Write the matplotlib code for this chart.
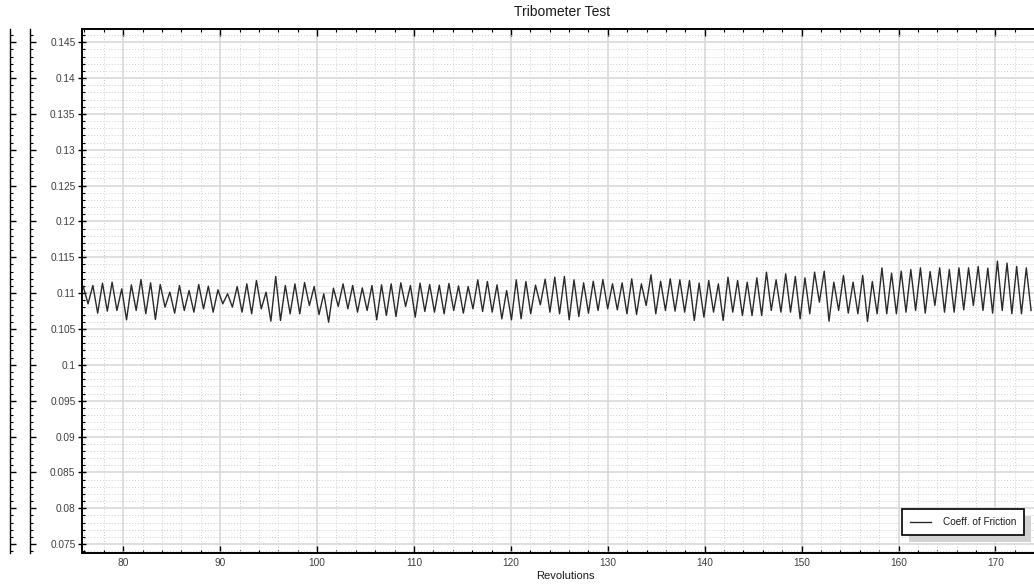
import numpy as np
import matplotlib.pyplot as plt
from matplotlib.ticker import MultipleLocator, FormatStrFormatter
from matplotlib.patches import Rectangle

plt.rcParams['font.family'] = ['Liberation Sans', 'DejaVu Sans']

# Coefficient of friction: one peak and one trough per revolution
peaks = [0.11093, 0.11107, 0.11140, 0.11153, 0.11060, 0.11116, 0.11191, 0.11144, 0.11121, 0.11014,
         0.11107, 0.11037, 0.11121, 0.11098, 0.11047, 0.10991, 0.11093, 0.11130, 0.11177, 0.11014,
         0.11233, 0.11107, 0.11130, 0.11149, 0.11093,
         0.10991, 0.11070, 0.11130, 0.11107, 0.11074, 0.11107, 0.11116, 0.11130, 0.11144, 0.11107,
         0.11140, 0.11121, 0.11112, 0.11135, 0.11102, 0.11093, 0.11186, 0.11163, 0.11116, 0.11037,
         0.11186, 0.11163, 0.11112, 0.11195, 0.11223,
         0.11233, 0.11186, 0.11144, 0.11167, 0.11191, 0.11130, 0.11144, 0.11200, 0.11130, 0.11256,
         0.11167, 0.11200, 0.11186, 0.11177, 0.11140, 0.11177, 0.11130, 0.11223, 0.11177, 0.11153,
         0.11214, 0.11293, 0.11186, 0.11270, 0.11233, 0.11214,
         0.11293, 0.11307, 0.11153, 0.11247, 0.11153, 0.11247, 0.11163, 0.11353, 0.11279, 0.11307,
         0.11330, 0.11353, 0.11302, 0.11353, 0.11330, 0.11353, 0.11353, 0.11372, 0.11349, 0.11447,
         0.11419, 0.11372, 0.11353]
troughs = [0.10851, 0.10721, 0.10749, 0.10758, 0.10628, 0.10758, 0.10712, 0.10633, 0.10805, 0.10721,
           0.10758, 0.10735, 0.10781, 0.10735, 0.10851, 0.10805, 0.10735, 0.10712, 0.10781, 0.10609,
           0.10619, 0.10712, 0.10712, 0.10828, 0.10702,
           0.10595, 0.10814, 0.10781, 0.10735, 0.10758, 0.10628, 0.10688, 0.10674, 0.10814, 0.10665,
           0.10744, 0.10735, 0.10712, 0.10758, 0.10721, 0.10781, 0.10744, 0.10735, 0.10642, 0.10628,
           0.10642, 0.10712, 0.10837, 0.10735, 0.10712,
           0.10628, 0.10674, 0.10721, 0.10758, 0.10781, 0.10767, 0.10712, 0.10702, 0.10828, 0.10712,
           0.10758, 0.10749, 0.10735, 0.10619, 0.10665, 0.10735, 0.10619, 0.10735, 0.10688, 0.10688,
           0.10688, 0.10758, 0.10735, 0.10735, 0.10642, 0.10712,
           0.10874, 0.10609, 0.10758, 0.10721, 0.10712, 0.10605, 0.10712, 0.10712, 0.10712, 0.10735,
           0.10758, 0.10721, 0.10828, 0.10735, 0.10735, 0.10767, 0.10828, 0.10758, 0.10721, 0.10758,
           0.10712, 0.10712, 0.10758]
first_peak = 75.87   # revolution of the first peak
period = 0.993       # revolutions per oscillation

x_peaks = first_peak + period * np.arange(len(peaks))
revs = np.column_stack([x_peaks, x_peaks + period / 2]).ravel()
cof = np.column_stack([peaks, troughs]).ravel()

xlim = (75.71, 173.98)
ylim = (0.07379, 0.14681)
label_color = '#404040'

fig = plt.figure(figsize=(10.34, 5.84), dpi=100)
ax = fig.add_axes([0.0790, 0.0536, 0.921, 0.8962])

ax.plot(revs, cof, color='#2a2a2a', lw=1.0, solid_joinstyle='round',
        label='Coeff. of Friction')
ax.set_xlim(xlim)
ax.set_ylim(ylim)

ax.xaxis.set_major_locator(MultipleLocator(10))
ax.xaxis.set_minor_locator(MultipleLocator(2))
ax.yaxis.set_major_locator(MultipleLocator(0.005))
ax.yaxis.set_minor_locator(MultipleLocator(0.001))
ax.yaxis.set_major_formatter(FormatStrFormatter('%g'))

ax.spines['right'].set_visible(False)
for s in ('top', 'left', 'bottom'):
    ax.spines[s].set_linewidth(1.4)
    ax.spines[s].set_color('black')

ax.tick_params(axis='x', which='both', top=True, bottom=True, direction='in', pad=4)
ax.tick_params(axis='x', which='major', length=4.8, width=1)
ax.tick_params(axis='x', which='minor', length=2.5, width=0.8)
ax.tick_params(axis='y', which='major', direction='inout', length=6, width=1, pad=1.5)
ax.tick_params(axis='y', which='minor', direction='in', length=2.5, width=0.8)
ax.tick_params(axis='y', which='both', right=False)
ax.tick_params(labelsize=7.3, labelcolor=label_color)

ax.grid(which='major', color='#d9d9d9', lw=1.2, ls='-')
ax.grid(which='minor', color='#cfcfcf', lw=0.7, ls=(0, (1, 2)))
ax.set_axisbelow(True)

# two empty extra y axes on the far left
for off in (37.2, 51.6):
    extra = ax.twinx()
    extra.set_ylim(ylim)
    for s in ('top', 'right', 'bottom'):
        extra.spines[s].set_visible(False)
    extra.spines['left'].set_visible(True)
    extra.spines['left'].set_position(('outward', off))
    extra.spines['left'].set_linewidth(1.0)
    extra.yaxis.set_ticks_position('left')
    extra.yaxis.set_major_locator(MultipleLocator(0.005))
    extra.yaxis.set_minor_locator(MultipleLocator(0.001))
    extra.tick_params(axis='y', which='both', direction='in', labelleft=False, labelright=False)
    extra.tick_params(axis='y', which='major', length=4.3, width=1)
    extra.tick_params(axis='y', which='minor', length=2.2, width=0.8)

fig.text(562 / 1034, 1 - 12 / 584, 'Tribometer Test', ha='center', va='center',
         fontsize=10, color='#1a1a1a')
fig.text(565 / 1034, 1 - 576 / 584, 'Revolutions', ha='center', va='center',
         fontsize=8, color='#1a1a1a')

leg = ax.legend(loc='lower right', bbox_to_anchor=(0.9895, 0.0338), borderaxespad=0,
                fancybox=False, framealpha=1, edgecolor='black', fontsize=7.2,
                handlelength=2.1, handletextpad=1.15, borderpad=0.8)
leg.get_frame().set_linewidth(1.2)
leg.set_zorder(6)
for t in leg.get_texts():
    t.set_color('#1a1a1a')

# gray drop shadow behind the legend box
fig.canvas.draw()
bb = leg.get_window_extent()
inv = ax.transAxes.inverted()
(x0, y0), (x1, y1) = inv.transform([(bb.x0 + 7, bb.y0 - 7), (bb.x1 + 7, bb.y1 - 7)])
ax.add_patch(Rectangle((x0, y0), x1 - x0, y1 - y0, transform=ax.transAxes,
                       facecolor='#d3d3d3', edgecolor='none', zorder=5.5, clip_on=False))

fig.savefig('out.png', dpi=100)
